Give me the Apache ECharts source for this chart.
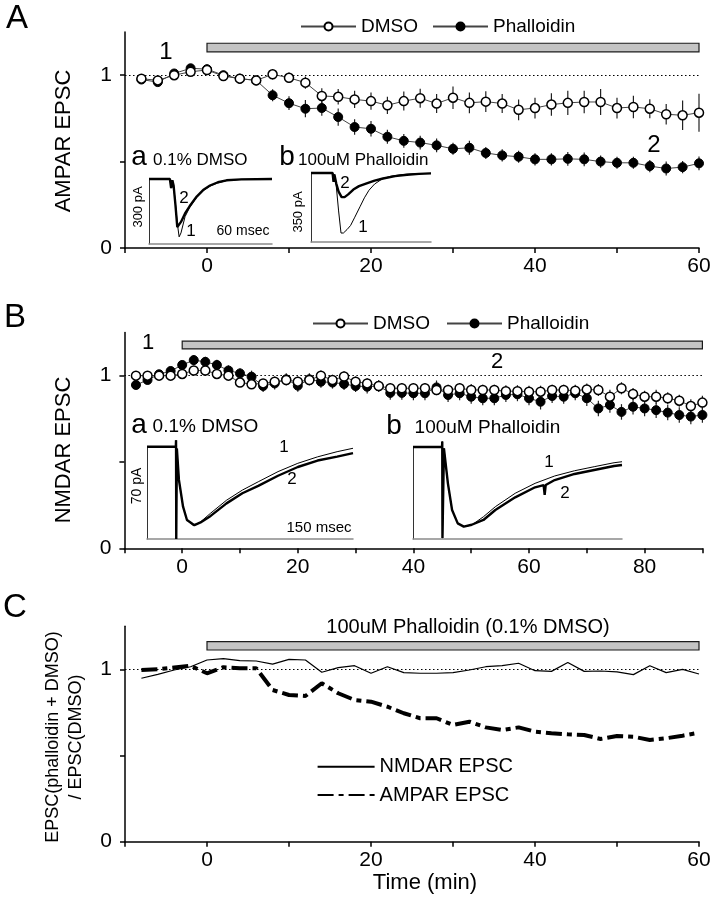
<!DOCTYPE html>
<html><head><meta charset="utf-8">
<script src="https://cdn.jsdelivr.net/npm/echarts@6/dist/echarts.min.js"></script>
<style>html,body{margin:0;padding:0;background:#fff}#c{width:714px;height:900px}</style>
</head><body><div id="c"></div>
<script>
// ---------- data ----------
const timeA = [-8,-6,-4,-2,0,2,4,6,8,10,12,14,16,18,20,22,24,26,28,30,32,34,36,38,40,42,44,46,48,50,52,54,56,58,60];
const ampaDmso = [0.98,0.97,1.0,1.02,1.03,0.995,0.98,0.97,1.005,0.985,0.957,0.88,0.875,0.86,0.85,0.826,0.85,0.867,0.836,0.87,0.84,0.847,0.836,0.80,0.81,0.83,0.84,0.845,0.845,0.81,0.816,0.806,0.774,0.768,0.783];
const ampaDmsoErr = [0.02,0.02,0.02,0.02,0.02,0.02,0.02,0.02,0.03,0.03,0.035,0.045,0.045,0.05,0.05,0.05,0.055,0.055,0.055,0.065,0.06,0.06,0.055,0.06,0.06,0.065,0.07,0.065,0.075,0.06,0.065,0.055,0.06,0.085,0.11];
const ampaPhal = [0.975,0.96,1.01,1.04,1.035,1.0,0.98,0.97,0.884,0.838,0.806,0.81,0.758,0.70,0.69,0.644,0.62,0.61,0.594,0.574,0.58,0.55,0.536,0.528,0.513,0.513,0.516,0.513,0.50,0.493,0.493,0.474,0.46,0.468,0.49];
const ampaPhalErr = [0.02,0.02,0.02,0.02,0.02,0.02,0.02,0.02,0.035,0.04,0.05,0.045,0.05,0.045,0.045,0.04,0.04,0.04,0.04,0.035,0.04,0.035,0.035,0.035,0.035,0.035,0.04,0.04,0.035,0.035,0.035,0.035,0.04,0.035,0.04];

const timeB = [-8,-6,-4,-2,0,2,4,6,8,10,12,14,16,18,20,22,24,26,28,30,32,34,36,38,40,42,44,46,48,50,52,54,56,58,60,62,64,66,68,70,72,74,76,78,80,82,84,86,88,90];
const nmdaDmso = [1.0,1.0,1.0,1.0,1.01,1.03,1.03,1.01,1.0, 0.96,0.95,0.955,0.965,0.975,0.965,0.975,1.0,0.975,0.995, 0.965,0.955,0.94,0.927,0.927,0.927,0.927,0.917,0.917,0.927, 0.917,0.917,0.917,0.91,0.91,0.907,0.907,0.917,0.917,0.913, 0.92,0.917,0.878,0.927,0.894,0.878,0.878,0.869,0.855,0.824, 0.844];
const nmdaDmsoErr = [0.02,0.02,0.02,0.02,0.02,0.02,0.02,0.02,0.02, 0.025,0.025,0.025,0.03,0.03,0.03,0.03,0.03,0.03,0.03, 0.03,0.03,0.03,0.03,0.03,0.03,0.03,0.03,0.03,0.03, 0.035,0.03,0.03,0.035,0.035,0.035,0.035,0.03,0.03,0.035, 0.035,0.035,0.04,0.035,0.035,0.035,0.04,0.035,0.035,0.04, 0.04];
const nmdaPhal = [0.946,0.975,1.008,1.027,1.062,1.09,1.08,1.062,1.03, 1.013,0.994,0.94,0.955,0.979,0.942,0.979,0.965,0.96,0.952, 0.94,0.936,0.94,0.90,0.90,0.898,0.898,0.932,0.888,0.898, 0.878,0.869,0.869,0.888,0.892,0.869,0.849,0.882,0.878,0.898, 0.869,0.81,0.83,0.79,0.82,0.81,0.80,0.786,0.772,0.763, 0.772];
const nmdaPhalErr = [0.025,0.025,0.025,0.025,0.025,0.03,0.03,0.03,0.03, 0.03,0.035,0.035,0.035,0.035,0.035,0.035,0.035,0.035,0.035, 0.035,0.04,0.035,0.04,0.04,0.04,0.04,0.04,0.04,0.04, 0.04,0.04,0.04,0.04,0.04,0.04,0.045,0.04,0.04,0.04, 0.045,0.045,0.045,0.045,0.045,0.045,0.045,0.045,0.045,0.045, 0.045];

const ratioNmda = [0.948,0.971,0.996,1.015,1.054,1.062,1.05,1.048,1.03,1.058,1.054,0.983,1.01,1.021,0.977,1.015,0.981,0.977,0.977,0.981,0.996,1.015,1.021,1.035,0.992,0.988,1.039,0.988,0.99,0.985,0.969,1.021,0.981,1.0,0.973];
const ratioAmpa = [0.996,1.0,1.01,1.02,0.977,1.012,1.006,1.006,0.88,0.851,0.845,0.919,0.861,0.822,0.812,0.783,0.745,0.716,0.716,0.677,0.696,0.663,0.648,0.663,0.638,0.629,0.623,0.619,0.596,0.613,0.609,0.59,0.60,0.615,0.632];

const drugA = [0, 60];
const drugB = [0, 90];
const drugC = [0, 60];

// ticks
const xTicksA = [-10,0,10,20,30,40,50,60];
const xLabelsA = [0,20,40,60];
const xTicksB = [-10,0,10,20,30,40,50,60,70,80,90];
const xLabelsB = [0,20,40,60,80];
const yTicks = [0,0.5,1];
const yLabels = [0,1];

// inset traces [time (% of sweep), current (% of baseline)]
const traceAa1 = [[0,100],[17,100],[18,86],[19,98],[20,90],[21.5,62],[23,32],[24.5,11],[26,17],[29.3,42],[33,56],[38.8,72],[44,82],[49.6,89],[56,94],[63,97.5],[75,99.5],[100,100]];
const traceAa2 = [[0,100],[17,100],[18,86],[19,98],[20,90],[21.5,60],[23,26],[24.5,28],[26,34],[29.3,47],[33,58],[38.8,73],[44,83],[49.6,90],[56,95],[63,98],[75,99.5],[100,100]];
const traceAb1 = [[0,100],[18,100],[18.8,87],[19.5,98],[21,82],[23,45],[25,13],[27,13],[30,18],[33,24],[36.5,36],[40.8,51],[44.5,64],[48.3,75],[53,84],[59.8,92],[67,95.5],[75,97.5],[87,99],[100,99.5]];
const traceAb2 = [[0,100],[18,100],[18.8,87],[19.5,98],[21,85],[23,73],[25.5,65],[28,65],[31,69],[35.3,76],[40,81],[46.4,85],[53,89],[60,92],[70,95.5],[80,97.5],[90,98.8],[100,99.5]];
const traceBa1 = [[0,100],[14,100],[14.1,107],[14.2,0],[14.5,98],[15.5,64],[17.5,35],[19.4,20.6],[22.3,15],[25.2,17],[30.9,28],[38.6,42],[46.3,53],[54,62],[63.6,73],[73.2,82],[82.8,89],[92.3,94.6],[100,98.3]];
const traceBa2 = [[0,100],[14,100],[14.1,107],[14.2,0],[14.5,98],[15.5,64],[17.5,35],[19.4,20.6],[23,15],[26,18],[30.9,25],[38.6,38.6],[46.3,49.6],[54,57.6],[63.6,68.5],[73.2,78],[82.8,85],[92.3,89.3],[100,93]];
const traceBb1 = [[0,100],[13.9,100],[14,106],[14.1,1],[14.8,98.6],[16.7,60.5],[18.7,31.5],[21.4,17],[24.3,13.4],[28.1,15.2],[33.7,24.2],[39.4,35.1],[48.9,49.7],[58.4,60.5],[67.8,68.5],[77.3,74.2],[86.7,78.6],[96.2,82.9],[100,84]];
const traceBb2 = [[0,100],[13.9,100],[14,106],[14.1,1],[14.8,98.6],[16.7,60.5],[18.7,31.5],[21.4,17],[24.3,13.4],[28.1,15.5],[33.7,20.7],[39.4,31.5],[48.9,45.3],[58.4,56.2],[62.5,58.5],[63,48],[63.5,58.7],[67.8,64.1],[77.3,70.7],[86.7,75],[96.2,79.3],[100,80.4]];

// ---------- build ----------
const FONT = '"Liberation Sans", Arial, Helvetica, sans-serif';
const zip = (xs, ys) => xs.map((x, i) => [x, ys[i]]);
const errs = (xs, ys, es) => xs.map((x, i) => [x, ys[i] - es[i], ys[i] + es[i]]);

const chart = echarts.init(document.getElementById('c'), null, {renderer: 'canvas'});

const gridBase = {containLabel: false, outerBoundsMode: 'none', show: false};
const grids = [
  Object.assign({left: 125, top: 32, width: 574, height: 216}, gridBase),
  Object.assign({left: 124.4, top: 332.5, width: 578, height: 215.8}, gridBase),
  Object.assign({left: 125, top: 626.2, width: 574, height: 215.5}, gridBase),
  Object.assign({left: 149, top: 179, width: 123, height: 65}, gridBase),
  Object.assign({left: 311, top: 173, width: 120, height: 69}, gridBase),
  Object.assign({left: 147, top: 446.7, width: 206, height: 92.3}, gridBase),
  Object.assign({left: 413, top: 447, width: 209, height: 92}, gridBase)
];

function mainX(gi, min, max, ticks, labels) {
  return {
    type: 'value', gridIndex: gi, min: min, max: max, interval: 10,
    axisLine: {show: true, onZero: false, lineStyle: {color: '#000', width: 1.5}},
    axisTick: {show: true, length: 5, inside: false, customValues: ticks, lineStyle: {color: '#000', width: 1.5}},
    axisLabel: {show: true, customValues: labels, margin: 8, fontSize: 21, color: '#000', fontFamily: FONT},
    splitLine: {show: false}
  };
}
function mainY(gi) {
  return {
    type: 'value', gridIndex: gi, min: 0, max: 1.25, interval: 0.5,
    axisLine: {show: true, onZero: false, lineStyle: {color: '#000', width: 1.5}},
    axisTick: {show: true, length: 5, inside: false, customValues: yTicks, lineStyle: {color: '#000', width: 1.5}},
    axisLabel: {show: true, customValues: yLabels, margin: 13, fontSize: 21, color: '#000', fontFamily: FONT},
    splitLine: {show: false}
  };
}
function insetX(gi) {
  return {type: 'value', gridIndex: gi, min: 0, max: 100,
    axisLine: {show: true, onZero: false, lineStyle: {color: '#8a8a8a', width: 1.5}},
    axisTick: {show: false}, axisLabel: {show: false}, splitLine: {show: false}};
}
function insetY(gi) {
  return {type: 'value', gridIndex: gi, min: 0, max: 100,
    axisLine: {show: true, onZero: false, lineStyle: {color: '#333', width: 1}},
    axisTick: {show: false}, axisLabel: {show: false}, splitLine: {show: false}};
}

const xAxes = [mainX(0, -10, 60, xTicksA, xLabelsA), mainX(1, -10, 90, xTicksB, xLabelsB), mainX(2, -10, 60, xTicksA, xLabelsA),
  insetX(3), insetX(4), insetX(5), insetX(6)];
const yAxes = [mainY(0), mainY(1), mainY(2), insetY(3), insetY(4), insetY(5), insetY(6)];

function barSeries(ai, period, lo, hi) {
  return {
    type: 'custom', name: 'bar' + ai, xAxisIndex: ai, yAxisIndex: ai, silent: true, z: 1,
    data: [[period[0], period[1], lo, hi]],
    renderItem: function (params, api) {
      const p0 = api.coord([api.value(0), api.value(3)]);
      const p1 = api.coord([api.value(1), api.value(2)]);
      return {type: 'rect', shape: {x: p0[0], y: p0[1], width: p1[0] - p0[0], height: p1[1] - p0[1]},
        style: {fill: '#c4c4c4', stroke: '#1a1a1a', lineWidth: 1.2}};
    }
  };
}
function errSeries(ai, data, nm) {
  return {
    type: 'custom', name: nm, xAxisIndex: ai, yAxisIndex: ai, silent: true, z: 2,
    data: data,
    renderItem: function (params, api) {
      const x = api.value(0);
      const a = api.coord([x, api.value(1)]);
      const b = api.coord([x, api.value(2)]);
      return {type: 'line', shape: {x1: a[0], y1: a[1], x2: b[0], y2: b[1]}, style: {stroke: '#222', lineWidth: 1.2}};
    }
  };
}
const dotted = {silent: true, symbol: ['none', 'none'], label: {show: false},
  lineStyle: {type: [1.5, 2.5], color: '#000', width: 1}, data: [{yAxis: 1}]};

function ptSeries(ai, name, data, open, mark) {
  const s = {
    type: 'line', name: name, xAxisIndex: ai, yAxisIndex: ai, data: data,
    symbol: 'circle', symbolSize: 9, showSymbol: true,
    lineStyle: {color: '#444', width: 1},
    itemStyle: open ? {color: '#fff', borderColor: '#000', borderWidth: 1.5} : {color: '#000', borderColor: '#000', borderWidth: 1},
    z: open ? 5 : 4, silent: true
  };
  if (mark) s.markLine = dotted;
  return s;
}
function traceSeries(ai, data, thick) {
  return {type: 'line', xAxisIndex: ai, yAxisIndex: ai, data: data, symbol: 'none', showSymbol: false,
    clip: false, silent: true, z: thick ? 6 : 5,
    lineStyle: {color: '#000', width: thick ? 2.4 : 1}};
}

const series = [
  barSeries(0, drugA, 1.135, 1.185),
  errSeries(0, errs(timeA, ampaPhal, ampaPhalErr), 'eA2'),
  errSeries(0, errs(timeA, ampaDmso, ampaDmsoErr), 'eA1'),
  ptSeries(0, 'Phalloidin', zip(timeA, ampaPhal), false, false),
  ptSeries(0, 'DMSO', zip(timeA, ampaDmso), true, true),

  barSeries(1, drugB, 1.155, 1.2),
  errSeries(1, errs(timeB, nmdaPhal, nmdaPhalErr), 'eB2'),
  errSeries(1, errs(timeB, nmdaDmso, nmdaDmsoErr), 'eB1'),
  ptSeries(1, 'Phalloidin', zip(timeB, nmdaPhal), false, false),
  ptSeries(1, 'DMSO', zip(timeB, nmdaDmso), true, true),

  barSeries(2, drugC, 1.112, 1.16),
  {type: 'line', name: 'NMDAR EPSC', xAxisIndex: 2, yAxisIndex: 2, data: zip(timeA, ratioNmda), symbol: 'none', showSymbol: false,
    itemStyle: {color: '#000'}, lineStyle: {color: '#000', width: 1.2}, z: 4, silent: true, markLine: dotted},
  {type: 'line', name: 'AMPAR EPSC', xAxisIndex: 2, yAxisIndex: 2, data: zip(timeA, ratioAmpa), symbol: 'none', showSymbol: false,
    itemStyle: {color: '#000'}, lineStyle: {color: '#000', width: 4, type: [16, 5, 5, 5]}, z: 4, silent: true},

  traceSeries(3, traceAa1, false), traceSeries(3, traceAa2, true),
  traceSeries(4, traceAb1, false), traceSeries(4, traceAb2, true),
  traceSeries(5, traceBa1, false), traceSeries(5, traceBa2, true),
  traceSeries(6, traceBb1, false), traceSeries(6, traceBb2, true)
];

function T(text, x, y, size, opt) {
  opt = opt || {};
  return {type: 'text', x: x, y: y, rotation: opt.rot || 0, silent: true, z: 100,
    style: {text: text, fill: '#000', font: size + 'px ' + FONT, align: opt.align || 'center', verticalAlign: 'middle'}};
}
const R = Math.PI / 2;
const texts = [
  T('A', 17, 19, 33), T('B', 15, 318, 33), T('C', 15, 608, 33),
  T('AMPAR EPSC', 64, 141, 22, {rot: R}),
  T('NMDAR EPSC', 64, 450, 22, {rot: R}),
  T('EPSC(phalloidin + DMSO)', 53, 737, 18, {rot: R}),
  T('/ EPSC(DMSO)', 76, 737, 18, {rot: R}),
  T('Time (min)', 425, 883, 22),
  T('1', 166, 52, 24), T('2', 654, 145, 24),
  T('1', 148, 343, 22), T('2', 497, 362, 22),
  T('100uM Phalloidin (0.1% DMSO)', 468, 627, 20),
  // inset A
  T('a', 139, 157, 28), T('0.1% DMSO', 153, 160, 17, {align: 'left'}),
  T('b', 287, 157, 28), T('100uM Phalloidin', 298, 160, 17, {align: 'left'}),
  T('300 pA', 138.5, 207, 13, {rot: R}), T('60 msec', 243, 231, 14),
  T('2', 184, 198, 17), T('1', 191, 231, 17),
  T('350 pA', 298, 212, 13, {rot: R}), T('2', 345, 183, 17), T('1', 363, 227, 17),
  // inset B
  T('a', 139, 425, 28), T('0.1% DMSO', 152.6, 427, 19, {align: 'left'}),
  T('b', 394, 426, 28), T('100uM Phalloidin', 414.6, 428, 19, {align: 'left'}),
  T('70 pA', 137, 486, 14, {rot: R}), T('150 msec', 319, 528, 15),
  T('1', 284, 447, 17), T('2', 292, 479, 17),
  T('1', 549, 462, 17), T('2', 565, 493, 17)
];

const legendBase = {selectedMode: false, padding: 0, itemWidth: 55, itemHeight: 10,
  textStyle: {fontSize: 19, color: '#000', fontFamily: FONT}};
const option = {
  animation: false,
  backgroundColor: '#fff',
  grid: grids,
  xAxis: xAxes,
  yAxis: yAxes,
  legend: [
    Object.assign({data: ['DMSO', 'Phalloidin'], left: 300, top: 17, itemGap: 14}, legendBase),
    Object.assign({data: ['DMSO', 'Phalloidin'], left: 312, top: 314, itemGap: 16}, legendBase),
    {data: ['NMDAR EPSC', 'AMPAR EPSC'], orient: 'vertical', left: 316.6, top: 756.7, itemGap: 8.3, itemWidth: 57, itemHeight: 12,
      selectedMode: false, padding: 0, itemStyle: {opacity: 0}, textStyle: {fontSize: 20, color: '#000', fontFamily: FONT}}
  ],
  graphic: {elements: texts},
  series: series
};
chart.setOption(option);
</script>
</body></html>
